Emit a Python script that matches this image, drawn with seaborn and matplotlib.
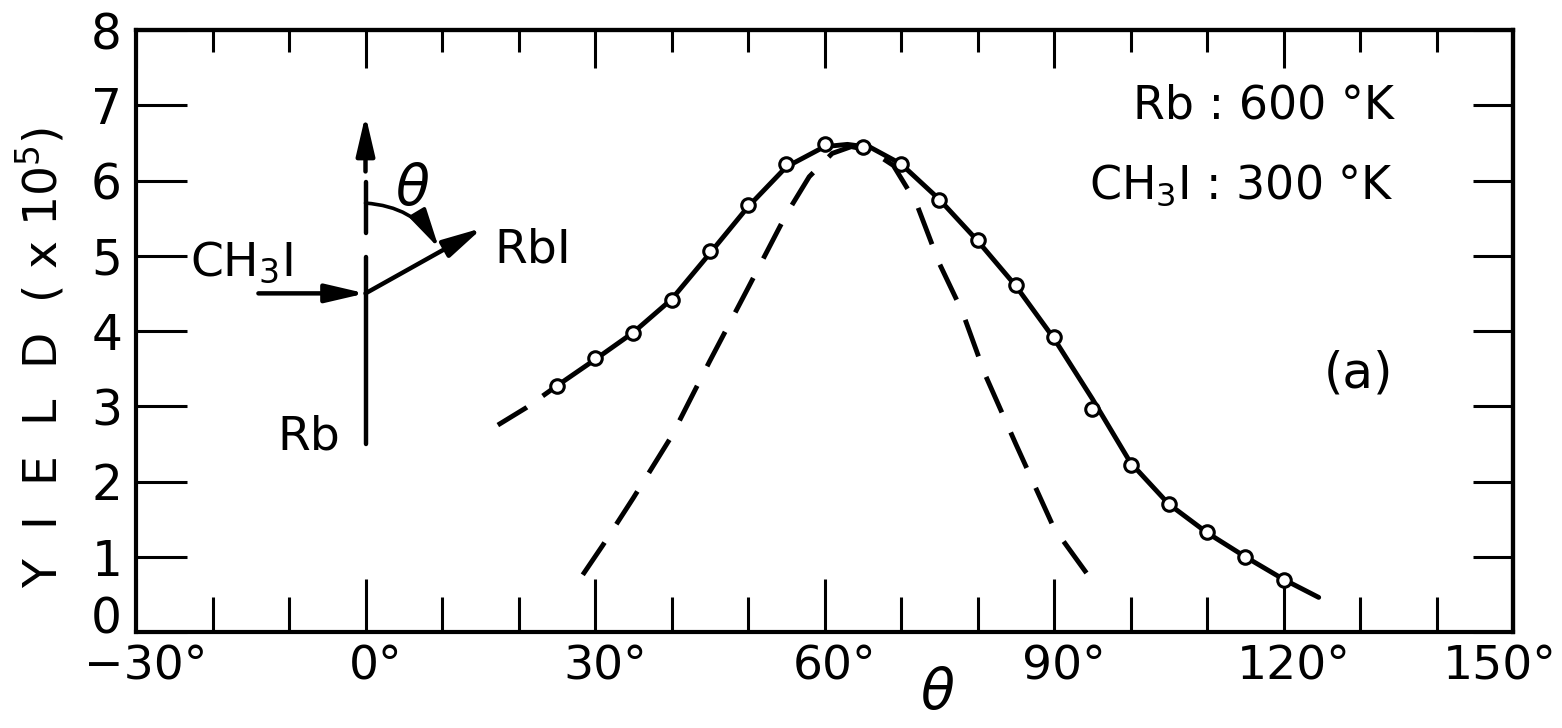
import matplotlib
matplotlib.use("Agg")
import matplotlib.pyplot as plt
from matplotlib import font_manager
from matplotlib.transforms import ScaledTranslation
import seaborn as sns

# measured RbI yield (open circles)
theta_pts = [25, 30, 35, 40, 45, 50, 55, 60, 65, 70, 75, 80, 85, 90, 95, 100, 105, 110, 115, 120]
yield_pts = [3.27, 3.64, 3.98, 4.41, 5.06, 5.67, 6.22, 6.49, 6.44, 6.22, 5.74, 5.21, 4.61, 3.92, 2.97,
             2.22, 1.70, 1.33, 1.00, 0.69]

# solid curve through the points
fit_theta = [25, 30, 35, 40, 45, 50, 55, 60, 63, 66, 70, 75, 80, 85, 90, 95, 100, 105, 110, 115, 120, 124.6]
fit_yield = [3.27, 3.62, 3.98, 4.42, 5.03, 5.65, 6.18, 6.45, 6.48, 6.44, 6.22, 5.75, 5.2, 4.6, 3.9, 3.1,
             2.25, 1.7, 1.32, 1.0, 0.7, 0.46]

# dashed extrapolation at small angles
ext_theta = [17.3, 21, 25]
ext_yield = [2.75, 2.98, 3.27]

# narrow dashed curve
narrow_theta = [28.4, 31, 35, 40, 45, 50, 55, 58, 61, 63.5, 66, 69, 72, 75, 78, 81, 85, 90, 95.2]
narrow_yield = [0.76, 1.15, 1.78, 2.6, 3.6, 4.57, 5.55, 6.05, 6.36, 6.45, 6.4, 6.2, 5.7, 4.9, 4.26,
                3.42, 2.5, 1.38, 0.65]

x_major = [-30, 0, 30, 60, 90, 120, 150]
x_minor = [-20, -10, 10, 20, 40, 50, 70, 80, 100, 110, 130, 140]
x_labels = ["\u221230°", "0°", "30°", "60°", "90°", "120°", "150°"]
y_ticks = [0, 1, 2, 3, 4, 5, 6, 7, 8]

sns.set_style("ticks")
plt.rcParams["font.family"] = ["DejaVu Sans"]
plt.rcParams["mathtext.fontset"] = "dejavusans"
for key in ["text.color", "axes.labelcolor", "xtick.color", "ytick.color", "axes.edgecolor"]:
    plt.rcParams[key] = "black"

names = {f.name for f in font_manager.fontManager.ttflist}
if "Liberation Sans Narrow" in names:
    num_font, xsize, ysize = "Liberation Sans Narrow", 43, 38
else:
    num_font, xsize, ysize = "DejaVu Sans", 34, 35

fig = plt.figure(figsize=(15.62, 7.28), dpi=100)
ax = fig.add_axes([136 / 1562, 96 / 728, 1377 / 1562, 602 / 728])

lw = 3.5
sns.lineplot(x=fit_theta, y=fit_yield, ax=ax, color="black", linewidth=lw, errorbar=None)
sns.lineplot(x=ext_theta, y=ext_yield, ax=ax, color="black", linewidth=lw, errorbar=None,
             linestyle=(0, (7, 4)))
sns.lineplot(x=narrow_theta, y=narrow_yield, ax=ax, color="black", linewidth=lw, errorbar=None,
             linestyle=(0, (8, 4.5)))
sns.scatterplot(x=theta_pts, y=yield_pts, ax=ax, marker="o", s=95, color="white",
                edgecolor="black", linewidth=2.2, zorder=5)

ax.set_xlim(-30, 150)
ax.set_ylim(0, 8)
ax.set_xticks(x_major, labels=x_labels, fontfamily=num_font)
ax.set_xticks(x_minor, minor=True)
ax.set_yticks(y_ticks, labels=[str(v) for v in y_ticks], fontfamily=num_font)
ax.tick_params(axis="x", which="major", direction="in", length=38, width=2.2, pad=9, labelsize=xsize)
ax.tick_params(axis="x", which="minor", direction="in", length=25, width=2.2)
ax.tick_params(axis="y", direction="in", length=37, width=2.2, pad=10, labelsize=ysize)
for sp in ax.spines.values():
    sp.set_linewidth(3)
    sp.set_visible(True)

top = ax.secondary_xaxis("top")
top.set_xticks(x_major, labels=[])
top.set_xticks(x_minor, minor=True)
top.tick_params(which="major", direction="in", length=27, width=2.2)
top.tick_params(which="minor", direction="in", length=16, width=2.2)
top.spines["top"].set_linewidth(3)

right = ax.secondary_yaxis("right")
right.set_yticks(y_ticks, labels=[])
right.tick_params(direction="in", length=29, width=2.2)
right.spines["right"].set_linewidth(3)


def nudge(label, dx, dy):
    label.set_transform(label.get_transform() + ScaledTranslation(dx / 100, dy / 100, fig.dpi_scale_trans))


# degree sign hangs to the right of the centred number
xlabs = ax.get_xticklabels()
for lab in xlabs[:-1]:
    nudge(lab, 10, 0)
xlabs[-1].set_horizontalalignment("right")
nudge(xlabs[-1], 44, 0)
nudge(ax.get_yticklabels()[0], 0, 18)

ax.set_ylabel("Y  I  E  L  D  ( x 10$^5$)", fontsize=34)
ax.yaxis.set_label_coords(-0.05, 0.457)
ax.set_xlabel("$\\theta$", fontsize=40)
ax.xaxis.set_label_coords(0.582, -0.058)

# beam geometry sketch
ax.plot([0, 0], [2.5, 4.98], color="black", lw=3.2, solid_capstyle="round")
ax.plot([0, 0], [5.3, 5.98], color="black", lw=3.2, solid_capstyle="round")
arrow = dict(arrowstyle="-|>,head_length=1.2,head_width=0.28", color="black", lw=3.2,
             shrinkA=0, shrinkB=0, mutation_scale=20)
ax.annotate("", xy=(0, 6.87), xytext=(0, 6.12), arrowprops=arrow)
ax.annotate("", xy=(0, 4.5), xytext=(-14, 4.5), arrowprops=arrow)
ax.annotate("", xy=(15.3, 5.37), xytext=(0, 4.5), arrowprops=arrow)
arc = dict(arrow, lw=2.6, connectionstyle="arc3,rad=-0.26")
ax.annotate("", xy=(9.6, 5.1), xytext=(0, 5.7), arrowprops=arc)

ax.text(6.2, 5.87, "$\\theta$", fontsize=40, ha="center", va="center")
ax.text(-23, 4.74, "CH$_3$I", fontsize=34, ha="left", va="baseline")
ax.text(16.9, 4.91, "RbI", fontsize=34, ha="left", va="baseline")
ax.text(-11.5, 2.42, "Rb", fontsize=34, ha="left", va="baseline")

ax.text(134.4, 6.83, "Rb : 600 °K", fontsize=33, ha="right", va="baseline")
ax.text(134.4, 5.76, "CH$_3$I : 300 °K", fontsize=33, ha="right", va="baseline")
ax.text(129.8, 3.44, "(a)", fontsize=36, ha="center", va="center")

fig.savefig("out.png", dpi=100)
